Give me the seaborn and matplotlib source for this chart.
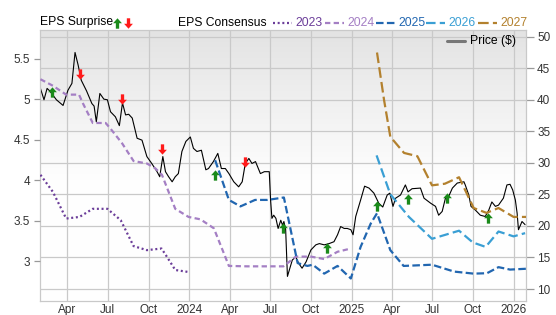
import numpy as np
import pandas as pd
import matplotlib
matplotlib.use("Agg")
import matplotlib.pyplot as plt
import seaborn as sns
from matplotlib.path import Path
from matplotlib.lines import Line2D
from matplotlib.colors import LinearSegmentedColormap

# ---------------- data ----------------
price_dates = ["2023-01-30","2023-02-07","2023-02-14","2023-02-20","2023-03-07","2023-03-22","2023-04-02","2023-04-11","2023-04-18","2023-04-25",
               "2023-05-02","2023-05-14","2023-05-26","2023-05-31","2023-06-05","2023-06-13","2023-06-22","2023-06-30","2023-07-07","2023-07-18",
               "2023-07-27","2023-08-03","2023-08-10","2023-08-17","2023-08-25","2023-09-05","2023-09-16","2023-09-27","2023-10-08","2023-10-20",
               "2023-10-26","2023-11-02","2023-11-08","2023-11-15","2023-11-23","2023-11-30","2023-12-07","2023-12-15","2023-12-24","2024-01-03",
               "2024-01-10","2024-01-18","2024-01-28","2024-02-07","2024-02-13","2024-02-24","2024-03-05","2024-03-13","2024-03-22","2024-03-30",
               "2024-04-10","2024-04-21","2024-04-29","2024-05-06","2024-05-14","2024-05-21","2024-05-29","2024-06-09","2024-06-18","2024-06-29",
               "2024-07-02","2024-07-05","2024-07-09","2024-07-14","2024-07-19","2024-07-25","2024-07-29","2024-08-01","2024-08-05","2024-08-09",
               "2024-08-20","2024-08-28","2024-09-03","2024-09-11","2024-09-20","2024-10-01","2024-10-12","2024-10-20","2024-10-31","2024-11-11",
               "2024-11-22","2024-11-30","2024-12-07","2024-12-15","2024-12-22","2024-12-30","2025-01-04","2025-01-10","2025-01-21","2025-01-30",
               "2025-02-09","2025-02-20","2025-03-03","2025-03-12","2025-03-22","2025-03-28","2025-04-04","2025-04-10","2025-04-21","2025-05-02",
               "2025-05-08","2025-05-17","2025-06-05","2025-06-13","2025-06-28","2025-07-09","2025-07-16","2025-07-24","2025-08-01","2025-08-04",
               "2025-08-16","2025-08-27","2025-09-03","2025-09-11","2025-09-14","2025-09-22","2025-09-27","2025-10-07","2025-10-18","2025-10-29",
               "2025-11-06","2025-11-13","2025-11-21","2025-11-28","2025-12-09","2025-12-17","2025-12-24","2025-12-30","2026-01-05","2026-01-09",
               "2026-01-12","2026-01-20","2026-01-27"]
price_values = [41.8,40.0,41.8,41.4,40.0,39.1,41.5,42.6,47.5,45.5,
                43.1,41.4,39.4,39.0,36.5,41.0,40.1,40.0,38.1,37.3,
                35.9,39.5,37.6,37.7,37.1,33.9,33.6,31.0,29.9,28.6,
                27.8,31.0,28.6,27.8,27.0,27.8,28.3,31.8,33.4,34.1,
                32.3,31.8,32.0,28.9,29.1,30.2,31.5,29.1,29.1,28.3,
                27.0,26.2,27.0,29.9,30.7,29.9,30.2,28.3,28.6,28.6,
                24.1,21.2,21.7,21.2,19.6,20.9,20.1,20.7,19.4,12.0,
                14.6,15.1,14.1,13.3,14.3,16.2,17.0,17.2,17.0,17.2,
                17.5,18.6,19.9,19.6,19.6,19.4,18.6,21.5,24.1,26.3,
                26.0,25.2,23.6,23.0,24.9,25.2,23.1,24.4,24.9,26.5,
                25.4,25.9,26.0,24.4,23.6,23.1,21.7,22.3,24.6,24.1,
                26.0,26.8,26.9,27.0,26.5,24.9,23.1,22.5,21.7,21.5,
                22.5,23.8,23.1,23.3,24.4,26.5,26.6,25.7,24.1,22.0,
                19.4,20.7,20.2]

eps2023_dates = ["2023-01-30","2023-02-27","2023-03-29","2023-04-28","2023-05-28","2023-06-30","2023-07-30",
                 "2023-08-28","2023-09-27","2023-10-30","2023-11-11","2023-11-30","2023-12-30"]
eps2023 = [4.07,3.86,3.53,3.55,3.65,3.65,3.51,3.19,3.14,3.16,3.06,2.895,2.87]

eps2024_dates = ["2023-01-30","2023-02-27","2023-03-29","2023-04-27","2023-05-06","2023-05-28","2023-06-26","2023-07-07",
                 "2023-08-02","2023-08-28","2023-09-27","2023-10-16","2023-10-31","2023-11-15","2023-11-30","2023-12-30",
                 "2024-01-26","2024-02-25","2024-03-30","2024-05-10","2024-07-31","2024-08-28","2024-10-01","2024-10-31",
                 "2024-11-30","2024-12-30"]
eps2024 = [5.25,5.17,5.06,5.06,4.95,4.71,4.71,4.64,4.46,4.24,4.21,4.15,4.07,3.86,3.65,3.55,
           3.52,3.41,2.945,2.94,2.94,3.06,3.06,3.03,3.12,3.16]

eps2025_dates = ["2024-02-28","2024-03-30","2024-04-25","2024-05-28","2024-06-25","2024-08-01","2024-09-01","2024-09-23",
                 "2024-10-05","2024-10-31","2024-11-30","2024-12-30","2025-01-21","2025-02-13","2025-02-27","2025-03-29",
                 "2025-04-28","2025-07-01","2025-08-20","2025-10-03","2025-11-02","2025-11-28","2025-12-24","2026-01-29"]
eps2025 = [4.25,3.76,3.68,3.76,3.76,3.79,2.98,2.945,2.96,2.85,2.945,2.79,3.18,3.47,3.595,3.14,
           2.945,2.96,2.875,2.85,2.855,2.93,2.90,2.91]

eps2026_dates = ["2025-02-26","2025-03-29","2025-05-10","2025-07-01","2025-08-31","2025-10-01","2025-10-30",
                 "2025-11-28","2026-01-01","2026-01-27"]
eps2026 = [4.31,3.83,3.55,3.28,3.38,3.235,3.18,3.37,3.31,3.35]

eps2027_dates = ["2025-02-27","2025-03-15","2025-03-29","2025-04-29","2025-05-29","2025-07-01","2025-07-30",
                 "2025-08-31","2025-10-03","2025-11-01","2025-11-28","2026-01-01","2026-01-29"]
eps2027 = [5.58,4.99,4.54,4.34,4.30,3.94,3.96,4.04,3.66,3.60,3.66,3.55,3.55]

surprise_up_dates = ["2023-02-25","2024-02-27","2024-07-30","2024-11-06","2025-02-26","2025-05-07","2025-08-04","2025-11-04"]
surprise_up_prices = [41.2,28.1,19.7,16.45,23.2,24.2,24.4,21.2]
surprise_down_dates = ["2023-04-30","2023-08-01","2023-11-01","2024-05-06"]
surprise_down_prices = [44.1,40.2,32.2,30.2]

years = ["2023","2024","2025","2026","2027"]
year_colors = ["#6b3d99","#a47fc4","#2166b0","#3a9fd4","#b3812e"]

xtick_dates = ["2023-04-01","2023-07-01","2023-10-01","2024-01-01","2024-04-01","2024-07-01",
               "2024-10-01","2025-01-01","2025-04-01","2025-07-01","2025-10-01","2026-01-01"]
xtick_labels = ["Apr","Jul","Oct","2024","Apr","Jul","Oct","2025","Apr","Jul","Oct","2026"]
eps_ticks = [3, 3.5, 4, 4.5, 5, 5.5]
eps_tick_labels = ["3", "3.5", "4", "4.5", "5", "5.5"]
price_ticks = [10, 15, 20, 25, 30, 35, 40, 45, 50]

# ---------------- style ----------------
sns.set_theme(style="white")
plt.rcParams['font.family'] = ['Liberation Sans', 'DejaVu Sans']

W, H = 556, 315
fig = plt.figure(figsize=(W / 100, H / 100), dpi=100)
rect = [40 / W, 1 - 301 / H, 486 / W, 271 / H]

# gradient background
bg = fig.add_axes(rect, zorder=-1)
cmap = LinearSegmentedColormap.from_list("bg", [(0, "#ffffff"), (0.45, "#fefefe"), (1.0, "#e3e3e3")])
grad = np.linspace(0, 1, 256).reshape(-1, 1)
bg.imshow(grad, aspect="auto", cmap=cmap, origin="lower", extent=[0, 1, 0, 1])
bg.axis("off")

axp = fig.add_axes(rect)
axp.patch.set_visible(False)
axe = axp.twinx()
axp.yaxis.tick_right()
axp.yaxis.set_label_position("right")
axe.yaxis.tick_left()
axe.yaxis.set_label_position("left")

grid_c = "#c9c9c9"
axp.set_axisbelow(True)
axp.grid(True, color=grid_c, linewidth=0.9)
for s in axp.spines.values():
    s.set_color(grid_c)
    s.set_linewidth(0.9)
for s in axe.spines.values():
    s.set_visible(False)

# price line
pdf = pd.DataFrame({"date": pd.to_datetime(price_dates), "price": price_values})
sns.lineplot(data=pdf, x="date", y="price", ax=axp, color="black", linewidth=0.8)

# surprise arrows
up_arrow = Path([(-0.32, -1.0), (0.32, -1.0), (0.32, 0.05), (0.85, 0.05), (0.0, 1.0),
                 (-0.85, 0.05), (-0.32, 0.05), (-0.32, -1.0)],
                [Path.MOVETO] + [Path.LINETO] * 6 + [Path.CLOSEPOLY])
down_arrow = Path([(x, -y) for x, y in up_arrow.vertices], up_arrow.codes)
udf = pd.DataFrame({"date": pd.to_datetime(surprise_up_dates), "price": surprise_up_prices})
ddf = pd.DataFrame({"date": pd.to_datetime(surprise_down_dates), "price": surprise_down_prices})
sns.scatterplot(data=udf, x="date", y="price", ax=axp, marker=up_arrow, s=55,
                color="#1a8a1a", linewidth=0, zorder=3)
sns.scatterplot(data=ddf, x="date", y="price", ax=axp, marker=down_arrow, s=55,
                color="#ff1a1a", linewidth=0, zorder=3)

# EPS consensus lines
all_dates = [eps2023_dates, eps2024_dates, eps2025_dates, eps2026_dates, eps2027_dates]
all_vals = [eps2023, eps2024, eps2025, eps2026, eps2027]
edf = pd.concat([pd.DataFrame({"date": pd.to_datetime(d), "eps": v, "year": y})
                 for d, v, y in zip(all_dates, all_vals, years)], ignore_index=True)
dash_map = {"2023": (0.9, 1.2), "2024": (2.4, 1.5), "2025": (3.4, 1.5), "2026": (4.3, 1.9), "2027": (4.8, 1.9)}
sns.lineplot(data=edf, x="date", y="eps", hue="year", style="year", ax=axe,
             palette=dict(zip(years, year_colors)), dashes=dash_map, linewidth=1.6,
             legend=False, sort=True)

# axes limits / ticks
xlo, xhi = pd.Timestamp("2023-01-29"), pd.Timestamp("2026-01-29")
axp.set_xlim(xlo, xhi)
axe.set_xlim(xlo, xhi)
axp.set_ylim(8.1, 51.06)
axe.set_ylim(2.512, 5.858)

axp.set_xticks(pd.to_datetime(xtick_dates))
axp.set_xticklabels(xtick_labels)
axp.set_yticks(price_ticks)
axp.set_yticklabels([str(t) for t in price_ticks])
axe.set_yticks(eps_ticks)
axe.set_yticklabels(eps_tick_labels)
for a in (axp, axe):
    a.set_xlabel("")
    a.set_ylabel("")
label_c = "#333333"
axp.tick_params(axis="x", length=0, pad=2, labelsize=8.5, labelcolor=label_c)
axp.tick_params(axis="y", right=True, left=False, length=6, width=0.9, color="#999999",
                pad=2, labelsize=8.5, labelcolor=label_c)
axe.tick_params(axis="y", left=True, right=False, length=4, width=0.9, color="#999999",
                pad=3, labelsize=8.5, labelcolor=label_c)
axe.tick_params(axis="x", bottom=False, labelbottom=False)

# ---------------- header legend ----------------
ty = 1 - 22.5 / H
fs = 8.7
fig.text(40 / W, ty, "EPS Surprise", fontsize=fs, va="center", ha="left", color="black")
fig.add_artist(Line2D([117 / W], [ty], marker=up_arrow, markersize=7.5, color="#1a8a1a",
                      markeredgewidth=0, linestyle="none", transform=fig.transFigure))
fig.add_artist(Line2D([128 / W], [ty], marker=down_arrow, markersize=7.5, color="#ff1a1a",
                      markeredgewidth=0, linestyle="none", transform=fig.transFigure))
fig.text(178 / W, ty, "EPS Consensus", fontsize=fs, va="center", ha="left", color="black")
sample_x = [273, 325, 376, 426, 478]
for x0, y_lbl, c in zip(sample_x, years, year_colors):
    ln = Line2D([x0 / W, (x0 + 19) / W], [ty, ty], color=c, linewidth=1.6, transform=fig.transFigure)
    ln.set_dashes(dash_map[y_lbl])
    fig.add_artist(ln)
    fig.text((x0 + 22) / W, ty, y_lbl, fontsize=fs, va="center", ha="left", color=c)

# price legend inside plot
py = 1 - 41 / H
fig.add_artist(Line2D([447 / W, 465 / W], [py, py], color="#777777", linewidth=2.2,
                      transform=fig.transFigure))
fig.text(470 / W, py, "Price ($)", fontsize=fs, va="center", ha="left", color="black")

fig.savefig("out.png", dpi=100)
